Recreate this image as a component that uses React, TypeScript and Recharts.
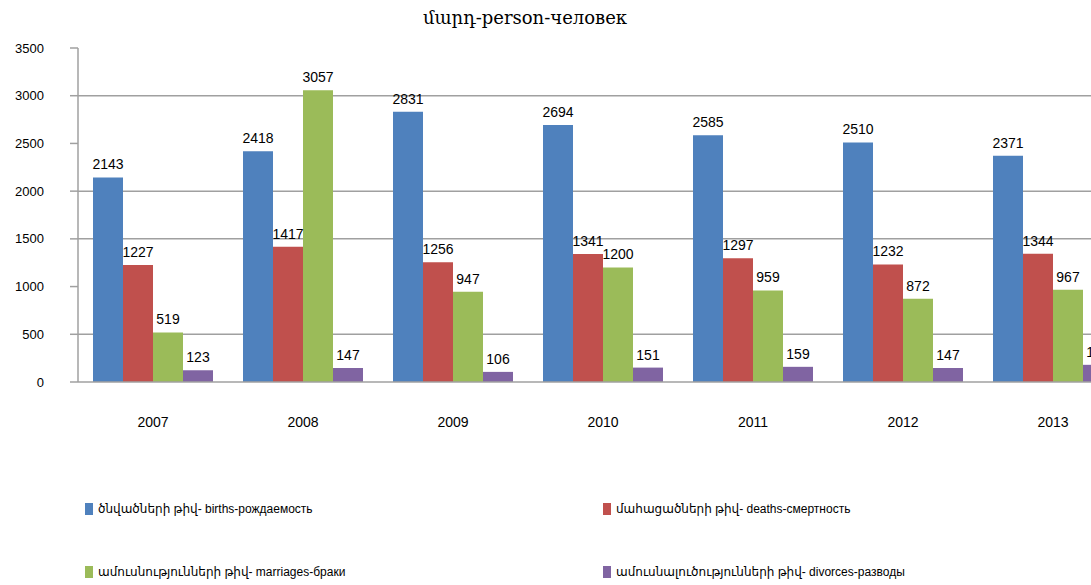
import { BarChart, Bar, XAxis, YAxis, CartesianGrid, LabelList } from "recharts";

const years = ["2007", "2008", "2009", "2010", "2011", "2012", "2013"];
const births = [2143, 2418, 2831, 2694, 2585, 2510, 2371];
const deaths = [1227, 1417, 1256, 1341, 1297, 1232, 1344];
const marriages = [519, 3057, 947, 1200, 959, 872, 967];
const divorces = [123, 147, 106, 151, 159, 147, 180];
const yTicks = [0, 500, 1000, 1500, 2000, 2500, 3000, 3500];

const series = [
  { key: "births", name: "ծնվածների թիվ- births-рождаемость", color: "#4F81BD" },
  { key: "deaths", name: "մահացածների թիվ- deaths-смертность", color: "#C0504D" },
  { key: "marriages", name: "ամուսնությունների թիվ- marriages-браки", color: "#9BBB59" },
  { key: "divorces", name: "ամուսնալուծությունների թիվ- divorces-разводы", color: "#8064A2" },
];

const data = years.map((year, i) => ({
  year,
  births: births[i],
  deaths: deaths[i],
  marriages: marriages[i],
  divorces: divorces[i],
}));

const legendPos = [
  { left: 85, top: 502 },
  { left: 603, top: 502 },
  { left: 85, top: 565 },
  { left: 603, top: 565 },
];

const App = () => {
  return (
    <div
      style={{
        position: "absolute",
        left: 0,
        top: 0,
        width: 1091,
        height: 585,
        overflow: "hidden",
        background: "#fff",
      }}
    >
      <div
        style={{
          position: "absolute",
          left: 325,
          width: 400,
          top: 7,
          textAlign: "center",
          fontFamily: "'DejaVu Serif', 'Liberation Serif', serif",
          fontSize: 18,
          color: "#000",
        }}
      >
        մարդ-person-человек
      </div>
      <BarChart
        width={1136}
        height={585}
        data={data}
        margin={{ top: 48, right: 8, left: 18, bottom: 163 }}
        barGap={0}
        barCategoryGap={15}
      >
        <CartesianGrid
          vertical={false}
          horizontalValues={[500, 1500, 2000, 3000]}
          stroke="#a0a0a0"
          strokeWidth={1.5}
        />
        <XAxis
          dataKey="year"
          height={40}
          tickLine={false}
          tickMargin={29}
          axisLine={{ stroke: "#a0a0a0", strokeWidth: 1.5 }}
          tick={{ fill: "#000", fontSize: 14, fontFamily: "'Liberation Sans', Arial, sans-serif" }}
        />
        <YAxis
          width={60}
          domain={[0, 3500]}
          ticks={yTicks}
          interval={0}
          tickSize={8}
          tickMargin={26}
          axisLine={{ stroke: "#a0a0a0", strokeWidth: 1.5 }}
          tickLine={{ stroke: "#a0a0a0", strokeWidth: 1.5 }}
          tick={{ fill: "#000", fontSize: 13, fontFamily: "'Liberation Sans', Arial, sans-serif" }}
        />
        {series.map((s) => (
          <Bar key={s.key} dataKey={s.key} name={s.name} fill={s.color} barSize={30} isAnimationActive={false}>
            <LabelList
              dataKey={s.key}
              position="top"
              offset={8}
              fill="#000"
              fontSize={14}
              fontFamily="'Liberation Sans', Arial, sans-serif"
            />
          </Bar>
        ))}
      </BarChart>
      {series.map((s, i) => (
        <div
          key={s.key}
          style={{
            position: "absolute",
            left: legendPos[i].left,
            top: legendPos[i].top,
            display: "flex",
            alignItems: "center",
            fontFamily: "'Liberation Sans', 'DejaVu Sans', sans-serif",
            fontSize: 12,
            color: "#000",
            whiteSpace: "nowrap",
          }}
        >
          <span style={{ display: "inline-block", width: 8, height: 12, background: s.color, marginRight: 5 }} />
          {s.name}
        </div>
      ))}
    </div>
  );
};

export default App;
